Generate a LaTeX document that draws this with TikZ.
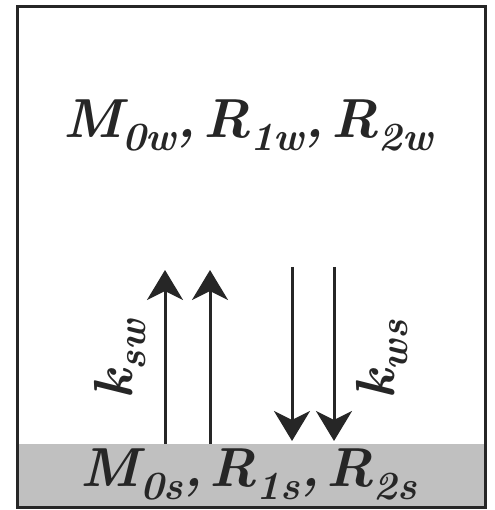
\documentclass[tikz,border=0pt]{standalone}
\usetikzlibrary{arrows.meta}
\definecolor{ink}{HTML}{262626}
\definecolor{band}{HTML}{C0C0C0}
\newcommand{\lowsub}[1]{\raisebox{-0.22em}{\fontsize{40}{42}\selectfont #1}}
\newcommand{\gap}{\hspace{7pt}}
\begin{document}
\begin{tikzpicture}[x=1pt,y=1pt,
  flow/.style={ink,line width=3pt,-{Stealth[length=30pt,width=36pt,inset=9pt]}},
  big/.style={ink,font=\fontsize{55}{60}\selectfont\bfseries\itshape,inner sep=0pt},
  rate/.style={ink,font=\fontsize{55}{60}\selectfont\bfseries\itshape,inner sep=0pt,rotate=90}]
\useasboundingbox (0,0) rectangle (494,510);
\fill[band] (17,2) rectangle (485,66);
\draw[ink,line width=3pt] (17,2) rectangle (485,503);
\node[big,anchor=base] (top) at (248,372) {M\lowsub{0w},\gap R\lowsub{1w},\gap R\lowsub{2w}};
\node[big,anchor=base] (bot) at (249,23) {M\lowsub{0s},\gap R\lowsub{1s},\gap R\lowsub{2s}};
\coordinate (u1s) at (165,66); \coordinate (u1e) at (165,240);
\coordinate (u2s) at (210,66); \coordinate (u2e) at (210,240);
\coordinate (d1s) at (292,243); \coordinate (d1e) at (292,69);
\coordinate (d2s) at (334,243); \coordinate (d2e) at (334,69);
\draw[flow] (u1s) -- (u1e);
\draw[flow] (u2s) -- (u2e);
\draw[flow] (d1s) -- (d1e);
\draw[flow] (d2s) -- (d2e);
\node[rate] (ksw) at (120,150) {k\lowsub{sw}};
\node[rate] (kws) at (382,150) {k\lowsub{ws}};
\end{tikzpicture}
\end{document}
